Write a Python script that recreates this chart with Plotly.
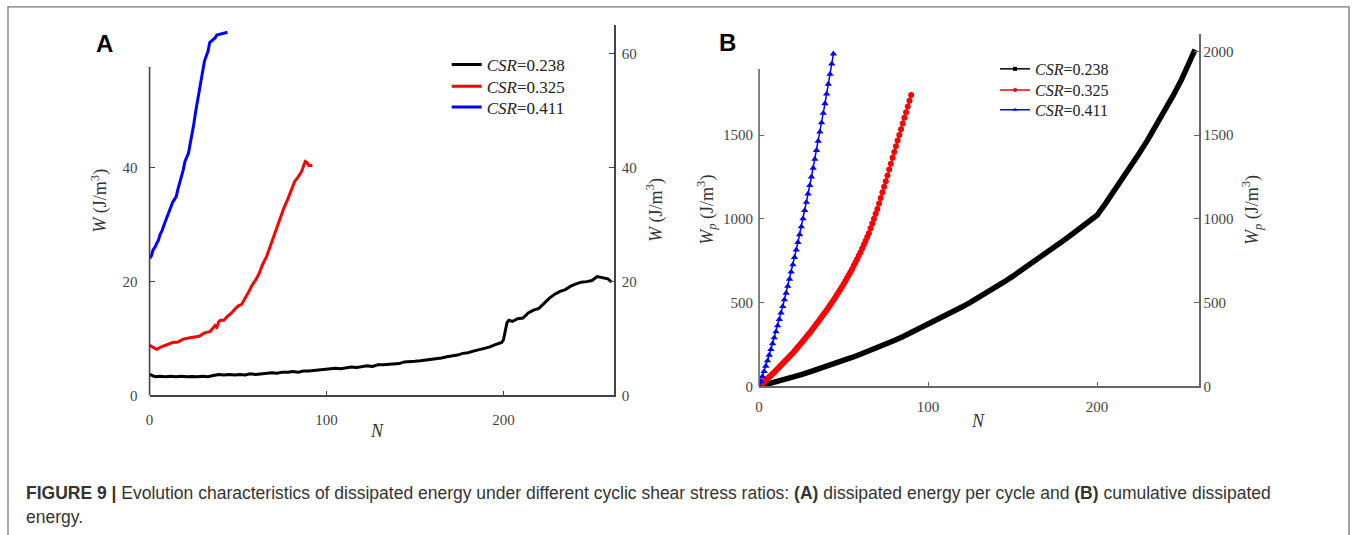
import plotly.graph_objects as go

W_PX, H_PX = 1352, 535
def px(x): return x / W_PX
def py(y): return 1 - y / H_PX

# ---------------- Panel A: dissipated energy per cycle ----------------
a_black_n = [0, 3, 6, 9, 12, 15, 18, 21, 24, 27, 30, 33, 36, 39, 42, 45, 48, 51, 54, 57, 60, 63, 66, 69, 72, 75,
             78, 81, 84, 87, 90, 93, 96, 99, 102, 105, 108, 111, 114, 117, 120, 123, 126, 129, 132, 135, 138, 141,
             144, 147, 150, 153, 156, 159, 162, 165, 168, 171, 174, 177, 180, 183, 186, 189, 192, 195, 198, 199,
             200, 201, 202, 203, 205, 208, 211, 214, 217, 220, 223, 226, 229, 232, 235, 238, 241, 244, 247, 250,
             253, 256, 259, 261]
a_black_w = [3.7, 3.3, 3.4, 3.3, 3.4, 3.3, 3.4, 3.3, 3.35, 3.3, 3.4, 3.3, 3.5, 3.7, 3.6, 3.7, 3.6, 3.7, 3.6, 3.8,
             3.7, 3.8, 3.8, 4.0, 3.9, 4.1, 4.1, 4.2, 4.1, 4.3, 4.3, 4.4, 4.5, 4.6, 4.6, 4.8, 4.7, 4.9, 5.0, 4.9,
             5.1, 5.2, 5.1, 5.4, 5.4, 5.5, 5.6, 5.6, 5.9, 5.9, 6.0, 6.1, 6.2, 6.3, 6.5, 6.6, 6.8, 6.9, 7.1, 7.4,
             7.5, 7.8, 8.0, 8.3, 8.5, 8.9, 9.1, 9.3, 9.8, 11.2, 12.8, 13.2, 13.0, 13.5, 13.6, 14.5, 15.0, 15.3,
             16.2, 17.1, 17.8, 18.3, 18.6, 19.2, 19.6, 19.9, 20.0, 20.2, 20.9, 20.7, 20.5, 19.9]

a_red_n = [0, 2, 4, 7, 10, 13, 16, 19, 22, 25, 28, 31, 34, 36, 37, 38, 39, 40, 42, 44, 46, 48, 50, 52, 54, 56,
           58, 60, 62, 64, 66, 68, 70, 72, 74, 76, 78, 80, 82, 84, 86, 87, 88, 89, 90, 92]
a_red_w = [8.8, 8.4, 8.1, 8.6, 8.9, 9.3, 9.4, 9.9, 10.1, 10.2, 10.4, 11.0, 11.2, 11.9, 12.3, 12.0, 12.9, 13.2,
           13.2, 13.9, 14.4, 15.1, 15.7, 16.0, 17.0, 18.2, 19.4, 20.3, 21.5, 23.1, 24.3, 26.1, 27.9, 29.6, 31.5,
           33.0, 34.4, 36.0, 37.6, 38.4, 39.4, 40.3, 41.1, 40.9, 40.4, 40.4]

a_blue_n = list(range(0, 41)) + [42, 44]
a_blue_w = [24.1, 24.5, 25.6, 26.0, 26.7, 27.3, 28.3, 28.9, 29.8, 30.6, 31.6, 32.2, 32.9, 33.9, 34.4, 34.9,
            36.2, 37.3, 38.2, 39.6, 41.1, 41.9, 42.6, 44.3, 45.9, 47.7, 49.8, 51.5, 53.6, 55.6, 57.3, 58.7,
            59.6, 60.4, 62.0, 62.3, 62.6, 62.8, 63.3, 63.4, 63.5, 63.7, 63.8]

# ---------------- Panel B: cumulative dissipated energy ----------------
b_black_n = [0, 5, 10, 15, 20, 25, 30, 35, 40, 45, 50, 55, 60, 65, 70, 75, 80, 85, 90, 95, 100, 105, 110, 115,
             120, 125, 130, 135, 140, 145, 150, 155, 160, 165, 170, 175, 180, 185, 190, 195, 200, 205, 210, 215,
             220, 225, 230, 235, 240, 245, 250, 255, 258]
b_black_wp = [0, 13, 27, 41, 56, 71, 87, 103, 120, 137, 155, 173, 192, 211, 231, 252, 274, 297, 321, 345, 370,
              395, 421, 447, 474, 502, 531, 561, 592, 624, 657, 691, 726, 761, 797, 833, 870, 907, 945, 983,
              1022, 1092, 1164, 1238, 1314, 1392, 1472, 1556, 1644, 1736, 1832, 1935, 2012]

b_red_n = list(range(0, 91))
b_red_wp = [0, 9, 19, 28, 38, 47, 57, 66, 76, 85, 95, 105, 116, 126, 137, 147, 158, 168, 179, 189, 200, 212,
            224, 236, 248, 260, 272, 284, 296, 308, 320, 333, 347, 360, 374, 387, 401, 414, 428, 441, 455, 470,
            485, 500, 515, 530, 546, 562, 578, 594, 610, 628, 646, 664, 682, 700, 720, 740, 760, 780, 800, 823,
            846, 869, 892, 915, 944, 973, 1002, 1031, 1060, 1093, 1126, 1159, 1192, 1225, 1260, 1295, 1330,
            1365, 1400, 1434, 1468, 1502, 1536, 1570, 1604, 1638, 1672, 1706, 1741]

b_blue_n = list(range(0, 45))
b_blue_wp = [0, 29, 60, 90, 122, 154, 187, 221, 256, 291, 327, 363, 401, 439, 478, 518, 558, 599, 641, 684,
             727, 771, 816, 861, 907, 954, 1002, 1051, 1100, 1150, 1200, 1252, 1304, 1357, 1410, 1465, 1520,
             1575, 1632, 1689, 1747, 1806, 1865, 1926, 1986]

series_names = ["<i>CSR</i>=0.238", "<i>CSR</i>=0.325", "<i>CSR</i>=0.411"]
series_colors = ["#000000", "#ff0000", "#0000ff"]

a_x_ticks = [0, 100, 200]
a_yl_ticks = [0, 20, 40]
a_yr_ticks = [0, 20, 40, 60]
b_x_ticks = [0, 100, 200]
b_yl_ticks = [0, 500, 1000, 1500]
b_yr_ticks = [0, 500, 1000, 1500, 2000]

SERIF = "Liberation Serif"
SANS = "Liberation Sans"
TICKCOL = "#444444"

fig = go.Figure()

legend_a_ids = ["legend", "legend2", "legend3"]
legend_b_ids = ["legend4", "legend5", "legend6"]

# Panel A traces
for n, w, name, col, lg in zip([a_black_n, a_red_n, a_blue_n], [a_black_w, a_red_w, a_blue_w],
                               series_names, series_colors, legend_a_ids):
    fig.add_trace(go.Scatter(x=n, y=w, mode="lines", name=name, line=dict(color=col, width=3),
                             xaxis="x", yaxis="y", legend=lg))

# Panel B traces (data)
fig.add_trace(go.Scatter(x=b_black_n, y=b_black_wp, mode="lines", line=dict(color="#000000", width=5.5),
                         xaxis="x2", yaxis="y2", showlegend=False))
fig.add_trace(go.Scatter(x=b_red_n, y=b_red_wp, mode="lines+markers", line=dict(color="#ff0000", width=1.5),
                         marker=dict(symbol="circle", size=6, color="#ff0000"),
                         xaxis="x2", yaxis="y2", showlegend=False))
fig.add_trace(go.Scatter(x=b_blue_n, y=b_blue_wp, mode="lines+markers", line=dict(color="#0000ff", width=1.5),
                         marker=dict(symbol="triangle-up", size=6.5, color="#0000ff"),
                         xaxis="x2", yaxis="y2", showlegend=False))
# Panel B legend entries
for name, col, sym, lg in zip(series_names, series_colors, ["square", "circle", "triangle-up"], legend_b_ids):
    fig.add_trace(go.Scatter(x=[None], y=[None], mode="lines+markers", name=name,
                             line=dict(color=col, width=1.5), marker=dict(symbol=sym, size=4, color=col),
                             xaxis="x2", yaxis="y2", legend=lg))

axis_common = dict(showgrid=False, zeroline=False, ticks="inside", ticklen=5, tickwidth=1.3,
                   tickfont=dict(family=SERIF, size=15, color=TICKCOL), fixedrange=True)

legend_layout = {}
for lg, yy in zip(legend_a_ids, [66, 88, 109]):
    legend_layout[lg] = dict(x=px(444), y=py(yy), xanchor="left", yanchor="middle", bgcolor="rgba(0,0,0,0)",
                             font=dict(family=SERIF, size=17, color="#222"), itemclick=False)
for lg, yy in zip(legend_b_ids, [70, 91.5, 111.5]):
    legend_layout[lg] = dict(x=px(994), y=py(yy), xanchor="left", yanchor="middle", bgcolor="rgba(0,0,0,0)",
                             font=dict(family=SERIF, size=16, color="#222"), itemclick=False)

fig.update_layout(
    width=W_PX, height=H_PX, margin=dict(l=0, r=0, t=0, b=0),
    paper_bgcolor="white", plot_bgcolor="rgba(0,0,0,0)",
    xaxis=dict(domain=[px(146), px(611.7)], range=[0, 262.4], anchor="y", tickvals=a_x_ticks,
               showline=True, linecolor="#444", linewidth=1.6, tickcolor="#444", ticklabelstandoff=10,
               **axis_common),
    yaxis=dict(domain=[py(401.5), py(25)], range=[0, 65.14], anchor="x", tickvals=a_yl_ticks,
               showline=False, tickcolor="#444", ticklabelstandoff=11, **axis_common),
    yaxis3=dict(domain=[py(401.5), py(25)], range=[0, 65.14], anchor="x", overlaying="y", side="right",
                tickvals=a_yr_ticks, showline=True, linecolor="#444", linewidth=1.6, tickcolor="#444",
                ticklabelstandoff=3, **axis_common),
    xaxis2=dict(domain=[px(757.3), px(1198.3)], range=[0, 260.2], anchor="y2", tickvals=b_x_ticks,
                showline=True, linecolor="#666", linewidth=1.6, tickcolor="#666", ticklabelstandoff=6,
                **axis_common),
    yaxis2=dict(domain=[py(392.3), py(35)], range=[0, 2101.8], anchor="x2", tickvals=b_yl_ticks,
                showline=False, tickcolor="#666", ticklabelstandoff=5, **axis_common),
    yaxis4=dict(domain=[py(392.3), py(35)], range=[0, 2101.8], anchor="x2", overlaying="y2", side="right",
                tickvals=b_yr_ticks, showline=True, linecolor="#666", linewidth=1.6, tickcolor="#666",
                **axis_common),
    showlegend=True,
    **legend_layout,
)

# dummy traces so right-side axes are rendered
fig.add_trace(go.Scatter(x=[None], y=[None], xaxis="x", yaxis="y3", showlegend=False))
fig.add_trace(go.Scatter(x=[None], y=[None], xaxis="x2", yaxis="y4", showlegend=False))

# Partial left axis lines
fig.add_shape(type="line", xref="x domain", yref="y", x0=0, x1=0, y0=0, y1=57.7,
              line=dict(color="#444", width=1.6))
fig.add_shape(type="line", xref="x2 domain", yref="y2", x0=0, x1=0, y0=0, y1=1896,
              line=dict(color="#666", width=1.6))
# Outer frame
fig.add_shape(type="rect", xref="paper", yref="paper", x0=px(4), x1=px(1349), y0=-0.05, y1=py(7),
              line=dict(color="#777", width=1.3), fillcolor="rgba(0,0,0,0)", layer="below")

ann = []
def add_text(text, x, y, size, family=SERIF, angle=0, xanchor="center", color="#333"):
    ann.append(dict(text=text, x=px(x), y=py(y), xref="paper", yref="paper", showarrow=False,
                    font=dict(family=family, size=size, color=color), textangle=angle,
                    xanchor=xanchor, yanchor="middle"))

add_text("<b>A</b>", 101, 44, 24, family=SANS, color="#000")
add_text("<b>B</b>", 726, 43, 24, family=SANS, color="#000")
add_text("<i>W</i> (J/m<sup>3</sup>)", 96, 204, 18, angle=-90)
add_text("<i>W</i> (J/m<sup>3</sup>)", 653, 213, 18, angle=-90)
add_text("<i>W</i><sub><i>p</i></sub> (J/m<sup>3</sup>)", 705, 213, 18, angle=-90)
add_text("<i>W</i><sub><i>p</i></sub> (J/m<sup>3</sup>)", 1252, 213, 18, angle=-90)
add_text("<i>N</i>", 374, 438, 18)
add_text("<i>N</i>", 977, 427, 18)
add_text("<b>FIGURE 9 |</b> Evolution characteristics of dissipated energy under different cyclic shear stress "
         "ratios: <b>(A)</b> dissipated energy per cycle and <b>(B)</b> cumulative dissipated",
         20, 500, 17.5, family=SANS, xanchor="left")
add_text("energy.", 20, 525, 17.5, family=SANS, xanchor="left")
fig.update_layout(annotations=ann)

fig.write_html("out.html")
